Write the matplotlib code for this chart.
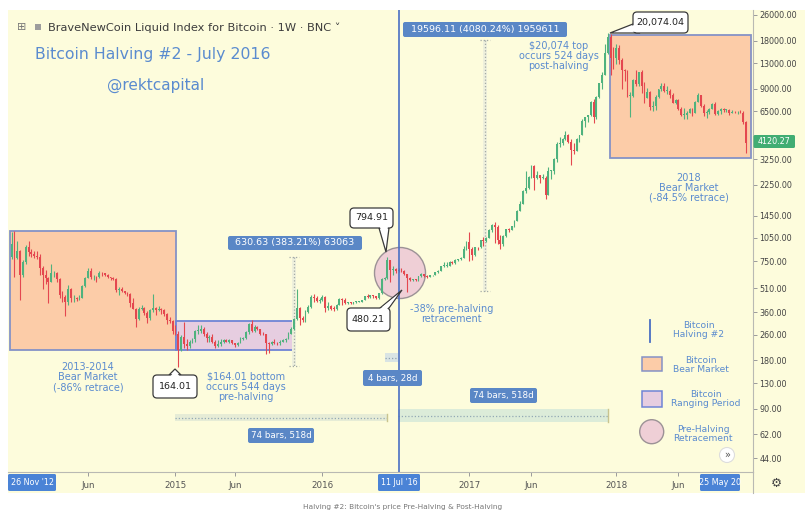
import matplotlib
matplotlib.use("Agg")
import numpy as np
import pandas as pd
import matplotlib.pyplot as plt
import matplotlib.dates as mdates
from matplotlib.patches import Rectangle, Ellipse, Polygon, FancyBboxPatch
from matplotlib.lines import Line2D
from matplotlib.transforms import Affine2D
from matplotlib.ticker import NullLocator

plt.rcParams['font.family'] = ['DejaVu Sans']

# ---------------- data (weekly candles, BNC index) ----------------
first_open = 800
week_start = ["2013-11-25", "2014-01-06", "2015-01-05", "2016-01-04", "2017-01-02", "2018-01-01"]

close_2013 = [960, 790, 870, 620, 740, 920]
high_2013 = [1150, 1160, 1000, 880, 760, 950]
low_2013 = [780, 600, 780, 430, 600, 720]

close_2014 = [860, 830, 810, 800, 680, 620, 590, 560, 630, 630, 580, 460, 450,
              420, 500, 440, 440, 435, 445, 525, 590, 650, 595, 600, 595, 635,
              630, 620, 600, 590, 585, 495, 505, 490, 478, 470, 410, 380, 325,
              380, 385, 355, 330, 370, 385, 370, 375, 370, 350, 320, 318, 275]
high_2014 = [1000, 900, 870, 870, 830, 700, 660, 600, 720, 650, 640, 590, 490,
             460, 530, 510, 460, 450, 460, 530, 600, 680, 680, 620, 610, 650,
             640, 630, 625, 600, 595, 590, 520, 520, 490, 485, 475, 440, 385,
             390, 400, 390, 365, 380, 470, 390, 395, 385, 375, 355, 335, 322]
low_2014 = [810, 800, 790, 780, 620, 500, 540, 410, 560, 600, 560, 440, 420,
            340, 400, 420, 420, 425, 430, 440, 520, 590, 580, 570, 560, 590,
            610, 610, 590, 575, 575, 480, 460, 480, 470, 455, 390, 375, 290,
            320, 370, 345, 310, 320, 360, 345, 365, 350, 340, 305, 310, 265]

close_2015 = [265, 210, 252, 228, 222, 236, 244, 275, 276, 285, 262, 248, 254,
              236, 222, 227, 236, 240, 236, 240, 230, 224, 232, 245, 249, 270,
              305, 276, 292, 282, 263, 262, 230, 228, 235, 232, 230, 234, 240,
              246, 264, 285, 325, 382, 330, 322, 362, 390, 450, 440, 422, 432]
high_2015 = [300, 275, 260, 315, 245, 240, 250, 280, 300, 298, 290, 270, 260,
             262, 240, 240, 245, 246, 245, 245, 242, 232, 235, 253, 252, 275,
             310, 320, 300, 297, 285, 270, 265, 235, 237, 245, 236, 240, 245,
             248, 270, 290, 330, 500, 390, 340, 370, 400, 460, 470, 455, 440]
low_2015 = [260, 164, 205, 215, 210, 215, 230, 235, 265, 268, 255, 235, 236,
            230, 216, 218, 222, 230, 234, 232, 228, 220, 223, 230, 240, 245,
            265, 270, 272, 280, 260, 258, 198, 200, 225, 228, 226, 226, 234,
            236, 244, 262, 280, 320, 300, 315, 315, 355, 385, 420, 415, 410]

close_2016 = [450, 382, 395, 378, 376, 402, 438, 432, 412, 412, 410, 416, 420,
              420, 430, 452, 450, 460, 456, 442, 472, 580, 590, 760, 665, 675,
              650, 665, 655, 622, 590, 570, 580, 572, 608, 622, 608, 600, 612,
              618, 640, 655, 700, 705, 705, 740, 735, 765, 770, 790, 900, 995]
high_2016 = [460, 455, 420, 400, 395, 405, 445, 440, 440, 420, 420, 420, 425,
             425, 432, 455, 468, 465, 462, 458, 478, 590, 600, 795, 765, 700,
             685, 680, 680, 665, 625, 600, 585, 585, 610, 630, 625, 612, 615,
             620, 642, 660, 705, 740, 740, 750, 748, 770, 775, 800, 935, 1000]
low_2016 = [425, 360, 370, 370, 365, 372, 400, 400, 405, 405, 405, 405, 410,
            415, 418, 428, 440, 440, 445, 435, 438, 470, 570, 585, 560, 620,
            630, 640, 640, 615, 480, 565, 565, 565, 568, 600, 600, 590, 595,
            605, 614, 630, 650, 690, 690, 700, 725, 725, 755, 765, 790, 880]

close_2017 = [900, 820, 918, 915, 1020, 1000, 1050, 1180, 1270, 1230, 1020, 960, 1080,
              1190, 1180, 1240, 1340, 1550, 1720, 2050, 2150, 2520, 2950, 2500, 2600, 2500,
              2500, 1950, 2750, 2750, 3250, 4050, 4100, 4350, 4600, 4200, 3700, 3650, 4350,
              4600, 5650, 6000, 6150, 7400, 5950, 8000, 9700, 11000, 15000, 19000, 14000, 13900]
high_2017 = [1150, 920, 925, 925, 1025, 1060, 1060, 1200, 1290, 1330, 1260, 1100, 1090,
             1200, 1220, 1250, 1350, 1580, 1780, 2080, 2760, 2550, 2980, 3000, 2750, 2600,
             2620, 2550, 2900, 2800, 3300, 4150, 4480, 4400, 4900, 4700, 4350, 4100, 4400,
             4650, 5850, 6000, 6200, 7500, 7800, 8100, 9750, 11400, 17200, 20074, 19800, 16500]
low_2017 = [750, 760, 815, 880, 910, 940, 995, 1050, 1150, 980, 960, 890, 940,
            1060, 1150, 1170, 1230, 1340, 1540, 1720, 2000, 2120, 2500, 2100, 2450, 2300,
            2450, 1850, 1950, 2450, 2650, 3150, 3900, 3980, 4300, 4100, 2980, 3500, 3650,
            4150, 4600, 5150, 5600, 6100, 5500, 5850, 7900, 9000, 11000, 14800, 11000, 12000]

close_2018 = [16200, 13700, 11800, 11600, 8100, 8100, 10200, 9600, 11400, 9400, 7900, 8600,
              6900, 7000, 8000, 8900, 9350, 8700, 8700, 8200, 7350, 7700, 6750, 6150, 6150,
              6350, 6750, 6350, 7400, 8200, 7000, 6300, 6400, 6700, 7200, 6250, 6500, 6700,
              6600, 6600, 6300, 6450, 6400, 6400, 6350, 5600, 4120.27]
high_2018 = [17200, 17000, 14100, 11900, 11700, 8600, 10300, 11700, 11500, 11700, 9900, 9100,
             8700, 7500, 8200, 8900, 9700, 9800, 9400, 8900, 8500, 7800, 7750, 6900, 6800,
             6500, 6800, 6800, 7500, 8500, 8200, 7200, 6600, 6800, 7300, 7400, 6600, 6800,
             6800, 6700, 6700, 6600, 6500, 6500, 6600, 6500, 5650]
low_2018 = [12800, 12800, 9000, 10000, 8000, 6000, 8000, 9300, 9400, 8500, 7300, 7900,
            6600, 6500, 6600, 7900, 8700, 8600, 8300, 7900, 7300, 7200, 6650, 6100, 5800,
            5800, 6300, 6100, 6300, 7400, 6900, 6100, 5900, 6250, 6700, 6200, 6150, 6250,
            6400, 6450, 6150, 6300, 6350, 6250, 6300, 5400, 3550]

price_ticks = [26000, 18000, 13000, 9000, 6500, 4500, 3250, 2250, 1450, 1050,
               750, 510, 360, 260, 180, 130, 90, 62, 44]
hidden_price_labels = [4500]  # covered by the last-price tag in the reference
x_tick_dates = ["2014-06-02", "2015-01-05", "2015-06-01", "2016-01-04",
                "2017-01-02", "2017-06-05", "2018-01-01", "2018-06-04"]
x_tick_labels = ["Jun", "2015", "Jun", "2016", "2017", "Jun", "2018", "Jun"]
halving_date = "2016-07-11"
last_price = 4120.27

# ---------------- assemble candles ----------------
closes_by_year = [close_2013, close_2014, close_2015, close_2016, close_2017, close_2018]
highs_by_year = [high_2013, high_2014, high_2015, high_2016, high_2017, high_2018]
lows_by_year = [low_2013, low_2014, low_2015, low_2016, low_2017, low_2018]
dates = []
for start, cl in zip(week_start, closes_by_year):
    dates.extend(pd.date_range(start, periods=len(cl), freq="7D"))
close = np.array(sum(closes_by_year, []), dtype=float)
high = np.array(sum(highs_by_year, []), dtype=float)
low = np.array(sum(lows_by_year, []), dtype=float)
opn = np.concatenate([[first_open], close[:-1]])
xd = mdates.date2num(pd.DatetimeIndex(dates))

# ---------------- figure ----------------
W, H = 805, 528
L, R, T, B = 8, 753, 10, 472
BG = '#fdfcdc'
GREEN = '#4fb27e'
RED = '#e4474f'
BLUE_TXT = '#5a8bcf'
PEACH = '#fccca8'
MAUVE = '#e6cde0'
BOXEDGE = '#8592c6'
TAG = '#5a87c6'

fig = plt.figure(figsize=(W / 100, H / 100), dpi=100, facecolor='white')
ax = fig.add_axes([L / W, 1 - B / H, (R - L) / W, (B - T) / H])
ax.set_facecolor(BG)

axpx = Affine2D().translate(-L, -B).scale(1 / (R - L), -1 / (B - T)) + ax.transAxes
figpx = Affine2D().scale(1 / W, -1 / H).translate(0, 1) + fig.transFigure

fig.add_artist(Rectangle((L, T), W - L, 493 - T, transform=figpx, facecolor=BG,
                         edgecolor='none', zorder=-10))

ax.set_yscale('log')
ax.set_ylim(36.13, 27940)
ax.set_xlim(mdates.date2num(pd.Timestamp("2013-11-16")), mdates.date2num(pd.Timestamp("2018-12-06")))

# boxes (data coords)
def dbox(d0, d1, p0, p1, fc, ec):
    x0 = mdates.date2num(pd.Timestamp(d0)); x1 = mdates.date2num(pd.Timestamp(d1))
    ax.add_patch(Rectangle((x0, p0), x1 - x0, p1 - p0, facecolor=fc, edgecolor=ec,
                           linewidth=1.3, zorder=1))

dbox("2013-11-21", "2015-01-06", 209, 1165, PEACH, BOXEDGE)
dbox("2015-01-06", "2015-10-24", 209, 318, MAUVE, '#6f84d6')
dbox("2017-12-16", "2018-11-30", 3304, 19498, PEACH, BOXEDGE)

# pre-halving retracement circle
ax.add_patch(Ellipse((400, 273), 51, 51, transform=axpx, facecolor='#efcfd6',
                     edgecolor='#9c9296', linewidth=1.0, zorder=1.5))

# measurement shaded areas & dotted lines
def dotted(xs, ys, color='#a3aaa6'):
    ax.add_line(Line2D(xs, ys, transform=axpx, color=color, lw=0.9,
                       linestyle=(0, (1, 1.6)), zorder=2))

ax.add_patch(Rectangle((292, 257), 4, 109, transform=axpx, facecolor='#eef0dc', edgecolor='none', zorder=1.8))
dotted([294, 294], [257, 366])
dotted([289, 299], [257, 257]); dotted([289, 299], [366, 366])
ax.add_patch(Rectangle((483, 40), 4, 251, transform=axpx, facecolor='#eef0dc', edgecolor='none', zorder=1.8))
dotted([485, 485], [40, 291])
dotted([480, 490], [40, 40]); dotted([480, 490], [291, 291])

ax.add_patch(Rectangle((385, 353), 13, 9, transform=axpx, facecolor='#d9e4e4', edgecolor='none', zorder=1.8))
dotted([385, 398], [357.5, 357.5], '#8fa3b3')
ax.add_patch(Rectangle((398, 409), 210, 13, transform=axpx, facecolor='#dcecd9', edgecolor='none', zorder=1.8))
dotted([398, 608], [415.5, 415.5], '#93a9b5')
ax.add_line(Line2D([608, 608], [409, 422], transform=axpx, color='#c9c48f', lw=1, zorder=2))
ax.add_patch(Rectangle((175, 414), 212, 7, transform=axpx, facecolor='#e6ecd6', edgecolor='none', zorder=1.8))
dotted([175, 387], [417.5, 417.5], '#93a9b5')
ax.add_line(Line2D([387, 387], [414, 421], transform=axpx, color='#c9c48f', lw=1, zorder=2))

# candles
up = close >= opn
col = np.where(up, GREEN, RED)
ax.vlines(xd, low, high, colors=col, linewidth=0.8, zorder=3)
bot = np.minimum(opn, close)
hgt = np.maximum(np.abs(close - opn), bot * 0.012)
ax.bar(xd, hgt, bottom=bot, width=4.6, color=col, linewidth=0, zorder=3.5)

# halving line
ax.axvline(mdates.date2num(pd.Timestamp(halving_date)), color='#4a6fc3', lw=1.2, zorder=4)

# axes styling
ax.yaxis.tick_right()
ax.set_yticks(price_ticks)
ax.set_yticklabels(["" if v in hidden_price_labels else f"{v:.2f}" for v in price_ticks])
ax.yaxis.set_minor_locator(NullLocator())
ax.tick_params(axis='y', which='major', direction='out', length=3, width=0.7, color='#9a9a9a',
               labelsize=5.8, labelcolor='#444444', pad=1.5)
ax.set_xticks(mdates.date2num(pd.to_datetime(x_tick_dates)))
ax.set_xticklabels(x_tick_labels)
ax.xaxis.set_minor_locator(NullLocator())
ax.tick_params(axis='x', direction='out', length=3, width=0.7, color='#9a9a9a',
               labelsize=6.3, labelcolor='#555555', pad=3.5)
for s in ['top', 'left']:
    ax.spines[s].set_visible(False)
for s in ['bottom', 'right']:
    ax.spines[s].set_color('#b9b9b3'); ax.spines[s].set_linewidth(0.8)
fig.add_artist(Line2D([R, R], [B, 493], transform=figpx, color='#b9b9b3', lw=0.8, zorder=1))

# ---------------- annotation helpers ----------------
def tag_ax(x0, y0, x1, y1, text, size=6.8):
    ax.add_patch(FancyBboxPatch((x0, y0), x1 - x0, y1 - y0, boxstyle='round,pad=0,rounding_size=2',
                                transform=axpx, facecolor=TAG, edgecolor='none', zorder=8))
    ax.text((x0 + x1) / 2, (y0 + y1) / 2, text, transform=axpx, color='white', fontsize=size,
            ha='center', va='center', zorder=9)

def callout(x0, y0, x1, y1, text, tip, b0, b1, size=6.8):
    ec = '#3a3a3a'
    ax.add_patch(Polygon([b0, tip, b1], closed=True, transform=axpx, facecolor='white',
                         edgecolor=ec, lw=0.9, zorder=10))
    ax.add_patch(FancyBboxPatch((x0, y0), x1 - x0, y1 - y0, boxstyle='round,pad=0,rounding_size=4',
                                transform=axpx, facecolor='white', edgecolor=ec, lw=0.9, zorder=10.1))
    mx, my = (b0[0] + b1[0]) / 2, (b0[1] + b1[1]) / 2
    dx, dy = mx - tip[0], my - tip[1]
    n = np.hypot(dx, dy); ux, uy = dx / n, dy / n
    def shrink(p):
        qx, qy = p[0] + (mx - p[0]) * 0.18, p[1] + (my - p[1]) * 0.18
        return (qx + ux * 1.6, qy + uy * 1.6)
    t2 = (tip[0] + dx * 0.3, tip[1] + dy * 0.3)
    ax.add_patch(Polygon([shrink(b0), t2, shrink(b1)], closed=True, transform=axpx,
                         facecolor='white', edgecolor='none', zorder=10.2))
    ax.text((x0 + x1) / 2, (y0 + y1) / 2, text, transform=axpx, fontsize=size, color='#222222',
            ha='center', va='center', zorder=10.3)

def btext(x, y, s, size=7.0, ha='center'):
    ax.text(x, y, s, transform=axpx, fontsize=size, color=BLUE_TXT, ha=ha, va='center',
            linespacing=1.0, zorder=7)

# header
ax.text(22, 27, '\u229e', transform=axpx, fontsize=8, color='#777777', ha='center', va='center', zorder=9)
ax.add_patch(Rectangle((35, 24), 6, 6, transform=axpx, facecolor='#9d9d9d', edgecolor='none', zorder=9))
ax.text(48, 27.5, 'BraveNewCoin Liquid Index for Bitcoin \u00b7 1W \u00b7 BNC \u02c5', transform=axpx,
        fontsize=8.2, color='#3c3c3c', ha='left', va='center', zorder=9)
btext(35, 54.5, 'Bitcoin Halving #2 - July 2016', size=11.3, ha='left')
btext(107, 85, '@rektcapital', size=11, ha='left')

# measurement tags
tag_ax(228, 236, 362, 250, '630.63 (383.21%) 63063')
tag_ax(403, 22, 567, 37, '19596.11 (4080.24%) 1959611')
tag_ax(363, 370, 422, 386, '4 bars, 28d', size=6.3)
tag_ax(470, 388, 537, 403, '74 bars, 518d', size=6.3)
tag_ax(248, 428, 314, 443, '74 bars, 518d', size=6.3)

# callouts
callout(350, 208, 393, 228, '794.91', (386, 252), (379, 228), (389, 228))
callout(347, 308, 390, 331, '480.21', (402, 290), (380, 308), (389, 308))
callout(153, 375, 197, 398, '164.01', (175, 369), (169, 375), (181, 375))
callout(633, 12, 688, 33, '20,074.04', (610, 33), (633, 24), (640, 33))

# blue notes
btext(88, 377.5, '2013-2014\nBear Market\n(-86% retrace)')
btext(246, 386.5, '$164.01 bottom\noccurs 544 days\npre-halving')
btext(451.5, 314, '-38% pre-halving\nretracement')
btext(558.5, 56, '$20,074 top\noccurs 524 days\npost-halving')
btext(689, 188, '2018\nBear Market\n(-84.5% retrace)')

# legend
ax.add_line(Line2D([650, 650], [320, 342], transform=axpx, color='#4a6fc3', lw=1.3, zorder=7))
btext(699, 330, 'Bitcoin\nHalving #2', size=6.6)
ax.add_patch(Rectangle((642, 357), 20, 14, transform=axpx, facecolor=PEACH, edgecolor=BOXEDGE, lw=1.1, zorder=7))
btext(701, 365, 'Bitcoin\nBear Market', size=6.6)
ax.add_patch(Rectangle((642, 391), 20, 16, transform=axpx, facecolor=MAUVE, edgecolor='#6f84d6', lw=1.1, zorder=7))
btext(706, 399, 'Bitcoin\nRanging Period', size=6.6)
ax.add_patch(Ellipse((651.7, 431.7), 24, 24, transform=axpx, facecolor='#efcfd6', edgecolor='#9c9296', lw=1.0, zorder=7))
btext(703, 434, 'Pre-Halving\nRetracement', size=6.6)
ax.add_patch(Ellipse((727, 455), 15, 15, transform=axpx, facecolor='white', edgecolor='#dddddd', lw=0.8, zorder=7))
ax.text(727, 455, '\u00bb', transform=axpx, fontsize=7, color='#555555', ha='center', va='center', zorder=8)

# axis label tags (figure level)
def fig_tag(x0, y0, x1, y1, text, fc, size=5.8):
    fig.add_artist(FancyBboxPatch((x0, y0), x1 - x0, y1 - y0, boxstyle='round,pad=0,rounding_size=1.5',
                                  transform=figpx, facecolor=fc, edgecolor='none', zorder=5))
    fig.text((x0 + x1) / 2 / W, 1 - (y0 + y1) / 2 / H, text, color='white', fontsize=size,
             ha='center', va='center', zorder=6)

fig_tag(8, 474, 56, 491, "26 Nov '12", '#4a83d6')
fig_tag(378, 474, 420, 491, "11 Jul '16", '#4a83d6')
fig_tag(700, 474, 740, 491, "25 May 20", '#4a83d6')
fig_tag(753.5, 135, 795, 148, f"{last_price:.2f}", '#41ad73', size=5.8)

fig.text(776 / W, 1 - 483 / H, '\u2699', fontsize=9, color='#444444', ha='center', va='center', zorder=6)
fig.text(403 / W, 1 - 507 / H, "Halving #2: Bitcoin's price Pre-Halving & Post-Halving",
         fontsize=5.3, color='#777777', ha='center', va='center')

fig.savefig('out.png', dpi=100, facecolor='white')
